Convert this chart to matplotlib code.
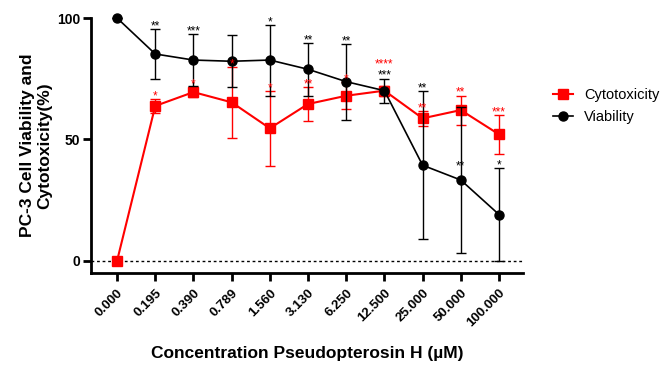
import matplotlib.pyplot as plt
import numpy as np
from matplotlib.lines import Line2D

plt.rcParams["font.family"] = ["Liberation Sans", "DejaVu Sans"]

conc_labels = ["0.000", "0.195", "0.390", "0.789", "1.560", "3.130",
               "6.250", "12.500", "25.000", "50.000", "100.000"]
viability = [100, 85.2, 82.7, 82.2, 82.7, 78.9, 73.8, 70.1, 39.4, 33.3, 19.1]
viability_err = [0, 10.2, 10.6, 10.7, 14.6, 10.8, 15.6, 5.0, 30.5, 30.0, 19.1]
viability_stars = ["", "**", "***", "", "*", "**", "**", "***", "**", "**", "*"]
cytotox = [0, 63.8, 69.5, 65.3, 54.6, 64.6, 68.0, 70.1, 58.7, 62.1, 52.1]
cytotox_err = [0, 3.0, 2.0, 14.5, 15.4, 7.0, 5.5, 2.0, 3.0, 6.0, 8.0]
cytotox_stars = ["", "*", "*", "*", "*", "**", "*", "****", "**", "**", "***"]

RED = "#ff0000"
x = np.arange(len(conc_labels))

fig = plt.figure(figsize=(6.6, 3.68), dpi=100)
ax = fig.add_axes([0.138, 0.258, 0.6545, 0.693])

ax.axhline(0, color="black", lw=1, ls=(0, (2, 2)), zorder=1)

ax.errorbar(x, cytotox, yerr=cytotox_err, color=RED, lw=1.5, elinewidth=1,
            capsize=3.5, capthick=1, marker="s", markersize=7,
            clip_on=False, zorder=3)
ax.errorbar(x, viability, yerr=viability_err, color="black", lw=1.2,
            elinewidth=1, capsize=3.5, capthick=1, marker="o", markersize=6.5,
            clip_on=False, zorder=4)

# significance marks
black_y = {}
for i, s in enumerate(viability_stars):
    if not s:
        continue
    y = viability[i] + viability_err[i] + 3
    if i == 9:
        y = viability[i] + 7.4
    black_y[i] = y
    ax.annotate(s, (i, y), xytext=(0, -5.5), textcoords="offset points",
                ha="center", va="baseline", fontsize=8.5, color="black",
                annotation_clip=False, zorder=5)
for i, s in enumerate(cytotox_stars):
    if not s:
        continue
    y = cytotox[i] + cytotox_err[i] + 3
    if i in black_y and abs(black_y[i] - y) < 4:
        y = black_y[i] + 4.6
    ax.annotate(s, (i, y), xytext=(0, -5.5), textcoords="offset points",
                ha="center", va="baseline", fontsize=8.5, color=RED,
                annotation_clip=False, zorder=5)

ax.set_xlim(-0.68, 10.63)
ax.set_ylim(-5, 100)
ax.set_yticks([0, 50, 100])
ax.set_yticklabels(["0", "50", "100"], fontsize=10, fontweight="bold")
ax.set_xticks(x)
ax.set_xticklabels(conc_labels, rotation=45, ha="right",
                   rotation_mode="anchor", fontsize=9.5, fontweight="bold")

for side in ["top", "right"]:
    ax.spines[side].set_visible(False)
for side in ["left", "bottom"]:
    ax.spines[side].set_linewidth(2)
ax.tick_params(axis="both", width=2, length=6, pad=2)
ax.tick_params(axis="x", pad=4)

ax.set_xlabel("Concentration Pseudopterosin H (µM)", fontsize=12.5,
              fontweight="bold", labelpad=12)
ax.set_ylabel("PC-3 Cell Viability and\nCytotoxicity(%)", fontsize=12.5,
              fontweight="bold", labelpad=3)

handles = [
    Line2D([], [], color=RED, lw=1.5, marker="s", markersize=7),
    Line2D([], [], color="black", lw=1.2, marker="o", markersize=6.5),
]
fig.legend(handles, ["Cytotoxicity", "Viability"], loc="center left",
           bbox_to_anchor=(0.838, 0.712), frameon=False, fontsize=10.5,
           borderaxespad=0, borderpad=0, handlelength=1.4,
           handletextpad=0.75, labelspacing=0.5)

fig.savefig("out.png", dpi=100)
